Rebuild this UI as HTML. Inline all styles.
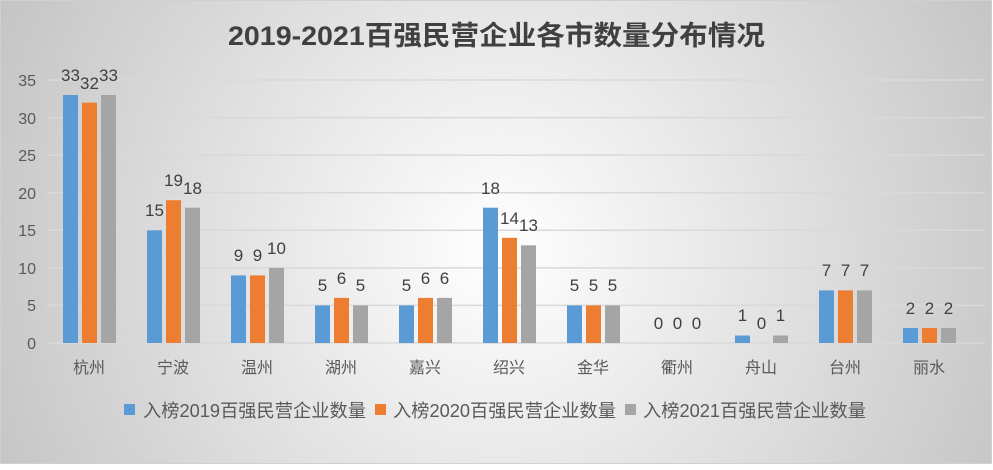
<!DOCTYPE html>
<html><head><meta charset="utf-8"><style>
html,body{margin:0;padding:0}
body{width:993px;height:465px;overflow:hidden}
</style></head><body>
<svg width="993" height="465" xmlns="http://www.w3.org/2000/svg" font-family="Liberation Sans, Noto Sans CJK SC, sans-serif">
<defs>
<radialGradient id="bg" cx="500" cy="250" r="560" gradientUnits="userSpaceOnUse">
<stop offset="0" stop-color="#ffffff"/><stop offset="1" stop-color="#c4c4c4"/>
</radialGradient>
</defs>
<rect x="0.5" y="0.5" width="991" height="463" fill="url(#bg)" stroke="#d0d0d0"/>
<text x="228" y="45" textLength="537" lengthAdjust="spacingAndGlyphs" font-size="27" font-weight="bold" fill="#404040">2019-2021百强民营企业各市数量分布情况</text>
<g stroke="#d9d9d9" stroke-width="1.5">
<line x1="47" x2="985" y1="343" y2="343"/><line x1="47" x2="985" y1="305.4" y2="305.4"/>
<line x1="47" x2="985" y1="267.9" y2="267.9"/><line x1="47" x2="985" y1="230.3" y2="230.3"/>
<line x1="47" x2="985" y1="192.7" y2="192.7"/><line x1="47" x2="985" y1="155.1" y2="155.1"/>
<line x1="47" x2="985" y1="117.6" y2="117.6"/><line x1="47" x2="985" y1="80" y2="80"/>
</g>
<g font-size="16" fill="#595959" text-anchor="end">
<text x="36" y="349">0</text><text x="36" y="311">5</text><text x="36" y="274">10</text><text x="36" y="236">15</text>
<text x="36" y="199">20</text><text x="36" y="161">25</text><text x="36" y="124">30</text><text x="36" y="86">35</text>
</g>
<g font-size="16" fill="#595959" text-anchor="middle">
<text x="89" y="373">杭州</text><text x="173" y="373">宁波</text><text x="257" y="373">温州</text><text x="341" y="373">湖州</text>
<text x="425" y="373">嘉兴</text><text x="509" y="373">绍兴</text><text x="593" y="373">金华</text><text x="677" y="373">衢州</text>
<text x="761" y="373">舟山</text><text x="845" y="373">台州</text><text x="929" y="373">丽水</text>
</g>
<g fill="#5b9bd5">
<rect x="63" y="95" width="15" height="248"/><rect x="147" y="230.3" width="15" height="112.7"/>
<rect x="231" y="275.4" width="15" height="67.6"/><rect x="315" y="305.4" width="15" height="37.6"/>
<rect x="399" y="305.4" width="15" height="37.6"/><rect x="483" y="207.7" width="15" height="135.3"/>
<rect x="567" y="305.4" width="15" height="37.6"/><rect x="735" y="335.5" width="15" height="7.5"/>
<rect x="819" y="290.4" width="15" height="52.6"/><rect x="903" y="328" width="15" height="15"/>
</g>
<g fill="#ed7d31">
<rect x="82" y="102.6" width="15" height="240.4"/><rect x="166" y="200.2" width="15" height="142.8"/>
<rect x="250" y="275.4" width="15" height="67.6"/><rect x="334" y="297.9" width="15" height="45.1"/>
<rect x="418" y="297.9" width="15" height="45.1"/><rect x="502" y="237.8" width="15" height="105.2"/>
<rect x="586" y="305.4" width="15" height="37.6"/>
<rect x="838" y="290.4" width="15" height="52.6"/><rect x="922" y="328" width="15" height="15"/>
</g>
<g fill="#a5a5a5">
<rect x="101" y="95" width="15" height="248"/><rect x="185" y="207.7" width="15" height="135.3"/>
<rect x="269" y="267.9" width="15" height="75.1"/><rect x="353" y="305.4" width="15" height="37.6"/>
<rect x="437" y="297.9" width="15" height="45.1"/><rect x="521" y="245.3" width="15" height="97.7"/>
<rect x="605" y="305.4" width="15" height="37.6"/><rect x="773" y="335.5" width="15" height="7.5"/>
<rect x="857" y="290.4" width="15" height="52.6"/><rect x="941" y="328" width="15" height="15"/>
</g>
<g font-size="17" fill="#404040" text-anchor="middle">
<text x="70.5" y="81">33</text><text x="89.5" y="89">32</text><text x="108.5" y="81">33</text>
<text x="154.5" y="216">15</text><text x="173.5" y="186">19</text><text x="192.5" y="194">18</text>
<text x="238.5" y="261">9</text><text x="257.5" y="261">9</text><text x="276.5" y="254">10</text>
<text x="322.5" y="291">5</text><text x="341.5" y="284">6</text><text x="360.5" y="291">5</text>
<text x="406.5" y="291">5</text><text x="425.5" y="284">6</text><text x="444.5" y="284">6</text>
<text x="490.5" y="194">18</text><text x="509.5" y="224">14</text><text x="528.5" y="231">13</text>
<text x="574.5" y="291">5</text><text x="593.5" y="291">5</text><text x="612.5" y="291">5</text>
<text x="658.5" y="329">0</text><text x="677.5" y="329">0</text><text x="696.5" y="329">0</text>
<text x="742.5" y="321">1</text><text x="761.5" y="329">0</text><text x="780.5" y="321">1</text>
<text x="826.5" y="276">7</text><text x="845.5" y="276">7</text><text x="864.5" y="276">7</text>
<text x="910.5" y="314">2</text><text x="929.5" y="314">2</text><text x="948.5" y="314">2</text>
</g>
<g font-size="18" fill="#595959">
<rect x="124" y="404" width="11" height="11" fill="#5b9bd5"/><text x="143" y="417" textLength="223" lengthAdjust="spacingAndGlyphs">入榜2019百强民营企业数量</text>
<rect x="375" y="404" width="11" height="11" fill="#ed7d31"/><text x="393" y="417" textLength="223" lengthAdjust="spacingAndGlyphs">入榜2020百强民营企业数量</text>
<rect x="625" y="404" width="11" height="11" fill="#a5a5a5"/><text x="643" y="417" textLength="223" lengthAdjust="spacingAndGlyphs">入榜2021百强民营企业数量</text>
</g>
</svg>
</body></html>
